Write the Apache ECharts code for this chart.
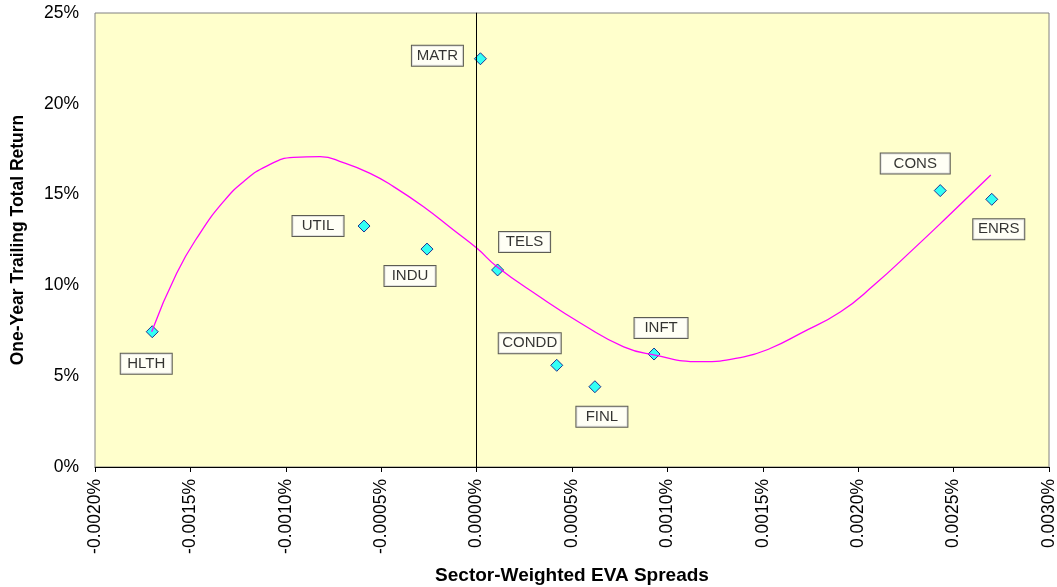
<!DOCTYPE html>
<html>
<head>
<meta charset="utf-8">
<script src="https://cdn.jsdelivr.net/npm/echarts@6/dist/echarts.min.js"></script>
<style>
  html, body { margin: 0; padding: 0; background: #ffffff; }
  #chart { width: 1057px; height: 587px; }
</style>
</head>
<body>
<div id="chart"></div>
<script>
// Sector points: EVA spread (in %) vs one-year trailing total return (in %)
const sectors = ['HLTH', 'UTIL', 'INDU', 'MATR', 'TELS', 'CONDD', 'FINL', 'INFT', 'CONS', 'ENRS'];
const evaSpread = [-0.00170, -0.00059, -0.00026, 0.00002, 0.00011, 0.00042, 0.00062, 0.00093, 0.00243, 0.00270];
const totalReturn = [7.45, 13.27, 12.0, 22.48, 10.85, 5.6, 4.42, 6.22, 15.22, 14.74];

// Fitted trend curve, sampled along its length
const trendX = [-0.001703, -0.001572, -0.00145, -0.001327, -0.001222, -0.0011, -0.00096, -0.00082,
  -0.000698, -0.000558, -0.000435, -0.000278, -0.000121, 0.000002, 0.000107, 0.000317, 0.000561,
  0.000771, 0.000929, 0.001174, 0.001401, 0.001541, 0.001698, 0.001908, 0.002083, 0.002293,
  0.002468, 0.002695];
const trendY = [7.45, 10.67, 12.87, 14.61, 15.71, 16.57, 17.05, 17.09, 16.76, 16.17, 15.44, 14.33,
  13.05, 12.04, 11.03, 9.47, 7.82, 6.62, 6.17, 5.80, 6.07, 6.54, 7.36, 8.55, 10.02, 12.04, 13.78, 16.08];

// Axis ticks
const xTicks = { min: -0.0020, max: 0.0030, step: 0.0005 };
const yTicks = { min: 0, max: 25, step: 5 };

// Where each sector's tag box sits relative to its marker (px)
const labelOffsets = {
  HLTH: [-6, 32], UTIL: [-46, 0], INDU: [-17, 27], MATR: [-43, -3], TELS: [27, -28],
  CONDD: [-27, -22], FINL: [7, 30], INFT: [7, -26], CONS: [-25, -27], ENRS: [7, 30]
};
const labelWidths = { CONDD: 54, CONS: 61, INFT: 45 };

const font = '"Liberation Sans", Arial, sans-serif';

const scatterData = sectors.map((name, i) => ({
  name: name,
  value: [evaSpread[i], totalReturn[i]],
  label: {
    offset: labelOffsets[name],
    width: labelWidths[name] || 43
  }
}));

const trendData = trendX.map((x, i) => [x, trendY[i]]);

const chart = echarts.init(document.getElementById('chart'), null, { renderer: 'canvas' });

chart.setOption({
  animation: false,
  backgroundColor: '#ffffff',
  grid: {
    left: 95, right: 8, top: 13, bottom: 120,
    outerBoundsMode: 'none',
    containLabel: false,
    show: true,
    backgroundColor: '#FFFFCC',
    borderColor: '#808080',
    borderWidth: 1
  },
  xAxis: {
    type: 'value',
    min: xTicks.min, max: xTicks.max, interval: xTicks.step,
    name: 'Sector-Weighted EVA Spreads',
    nameLocation: 'middle',
    nameGap: 99,
    nameTextStyle: { fontFamily: font, fontWeight: 'bold', fontSize: 19, color: '#000' },
    axisLine: { show: true, onZero: false, lineStyle: { color: '#000', width: 1 } },
    axisTick: { show: true, length: 5, lineStyle: { color: '#000' } },
    splitLine: { show: false },
    axisLabel: {
      rotate: 90,
      margin: 12,
      fontFamily: font, fontSize: 17.5, color: '#000',
      formatter: v => (Math.abs(v) < 1e-12 ? 0 : v).toFixed(4) + '%'
    }
  },
  yAxis: {
    type: 'value',
    min: yTicks.min, max: yTicks.max, interval: yTicks.step,
    name: 'One-Year Trailing Total Return',
    nameLocation: 'middle',
    nameGap: 68,
    nameTextStyle: { fontFamily: font, fontWeight: 'bold', fontSize: 17.5, color: '#000' },
    axisLine: { show: true, lineStyle: { color: '#404040', width: 1 } },
    axisTick: { show: false },
    splitLine: { show: false },
    axisLabel: {
      margin: 16,
      fontFamily: font, fontSize: 17.5, color: '#000',
      formatter: '{value}%'
    }
  },
  series: [
    {
      type: 'scatter',
      data: scatterData,
      symbol: 'diamond',
      symbolSize: 12,
      z: 2,
      itemStyle: { color: '#00FFFF', borderColor: '#000080', borderWidth: 1 },
      label: {
        show: true,
        position: 'inside',
        formatter: p => p.name,
        fontFamily: font, fontSize: 15, color: '#000',
        align: 'center',
        backgroundColor: '#ffffff',
        borderColor: '#333333',
        borderWidth: 1,
        padding: [3, 4, 2, 4],
        lineHeight: 15
      },
      markLine: {
        silent: true,
        symbol: 'none',
        label: { show: false },
        lineStyle: { color: '#000000', width: 1, type: 'solid' },
        data: [{ xAxis: 0 }]
      }
    },
    {
      type: 'line',
      data: trendData,
      smooth: true,
      showSymbol: false,
      symbol: 'none',
      z: 3,
      lineStyle: { color: '#FF00FF', width: 1.3 }
    }
  ]
});
</script>
</body>
</html>
